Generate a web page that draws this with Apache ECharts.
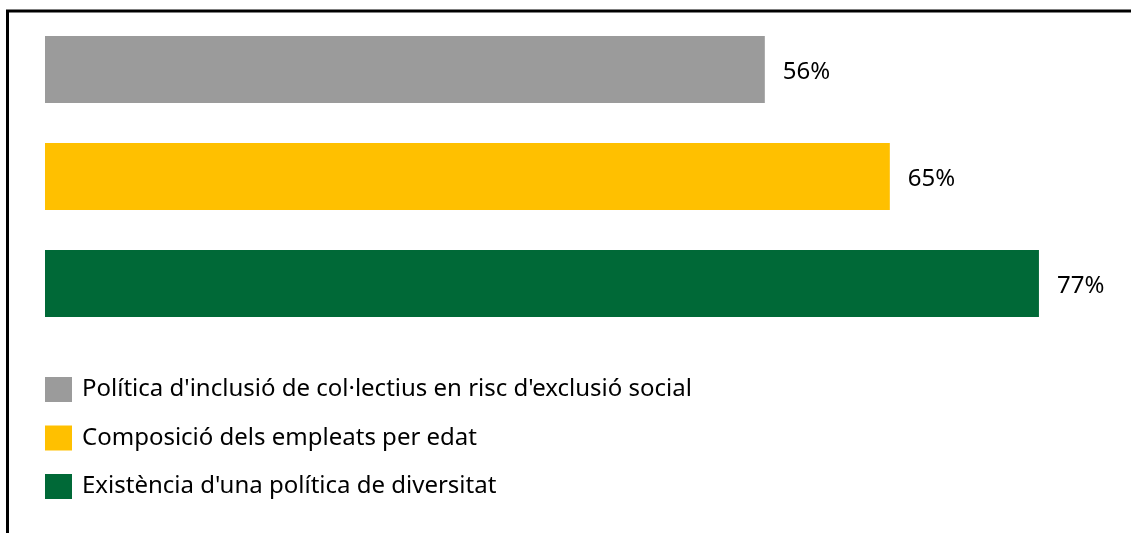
<!DOCTYPE html>
<html><head><meta charset="utf-8">
<script src="https://cdn.jsdelivr.net/npm/echarts@6/dist/echarts.min.js"></script>
<style>html,body{margin:0;padding:0;background:#fff}#c{width:1131px;height:533px}</style>
</head><body><div id="c"></div>
<script>
const categories = ["Política d'inclusió de col·lectius en risc d'exclusió social", "Composició dels empleats per edat", "Existència d'una política de diversitat"];
const values = [55.8, 65.49, 77.05];
const colors = ['#9b9b9b', '#ffc000', '#006937'];

const chart = echarts.init(document.getElementById('c'));
const series = categories.map((name, i) => ({
  name: name,
  type: 'bar',
  stack: 'all',
  barWidth: 67,
  itemStyle: { color: colors[i] },
  label: {
    show: true, position: 'right', distance: 18, offset: [0, 3],
    formatter: p => Math.round(p.value) + '%',
    color: '#000', fontSize: 24, fontFamily: 'Noto Sans'
  },
  data: categories.map((c, j) => j === i ? values[i] : '-')
}));
chart.setOption({
  animation: false,
  grid: { left: 45, top: 16, height: 321, width: 80 * 12.9 },
  xAxis: { type: 'value', min: 0, max: 80, show: false },
  yAxis: { type: 'category', data: categories, inverse: true, show: false },
  legend: {
    orient: 'vertical', left: 40, top: 372,
    itemWidth: 27, itemHeight: 25, itemGap: 23.5, icon: 'rect',
    textStyle: { fontSize: 24, fontFamily: 'Noto Sans', color: '#000', padding: [0, 0, 0, 5] },
    data: categories
  },
  series: series,
  graphic: [
    { type: 'line', shape: { x1: 7.5, y1: 11, x2: 7.5, y2: 533 }, style: { stroke: '#000', lineWidth: 3 } },
    { type: 'line', shape: { x1: 6, y1: 11, x2: 1131, y2: 11 }, style: { stroke: '#000', lineWidth: 3 } }
  ]
});
</script></body></html>
